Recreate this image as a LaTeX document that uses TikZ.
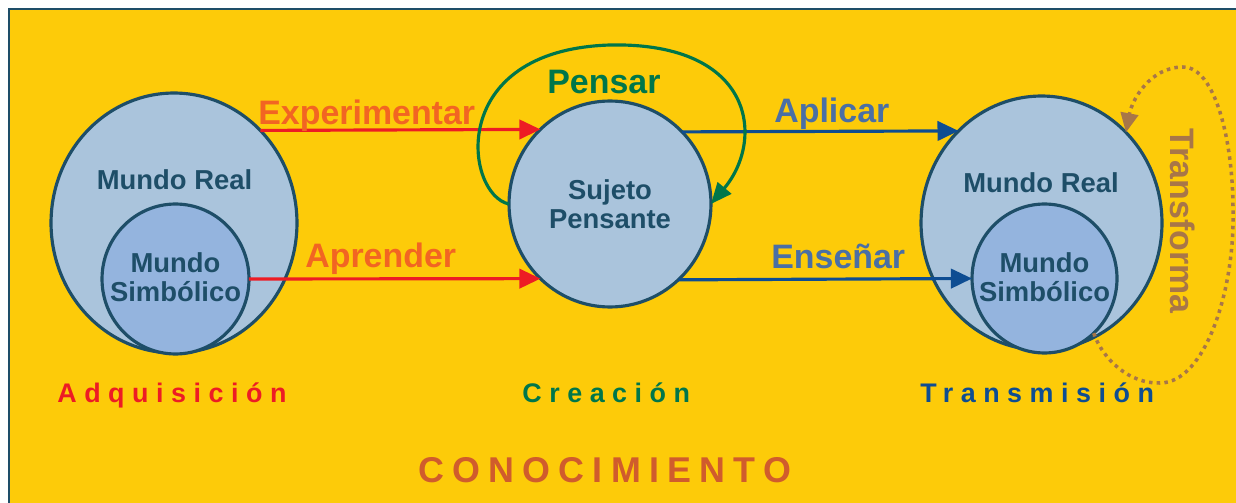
\documentclass[tikz,border=0pt]{standalone}
\usepackage{fontspec}
\setmainfont{Liberation Sans}
\usepackage{xcolor}
\definecolor{cn-yellow}{RGB}{253,203,9}
\definecolor{cn-navy}{RGB}{30,78,104}
\definecolor{cn-world}{RGB}{170,196,220}
\definecolor{cn-symbol}{RGB}{148,180,222}
\definecolor{cn-red}{RGB}{237,28,36}
\definecolor{cn-orange}{RGB}{242,101,34}
\definecolor{cn-green}{RGB}{0,118,74}
\definecolor{cn-blue}{RGB}{14,77,146}
\definecolor{cn-slate}{RGB}{74,111,165}
\definecolor{cn-brown}{RGB}{168,118,72}
\definecolor{cn-rust}{RGB}{208,92,44}
\usepackage{tikz}
\usetikzlibrary{shapes,arrows.meta}
\newcommand{\circfont}{\fontsize{15.6}{16.2}\selectfont\bfseries}
\newcommand{\verbfont}{\fontsize{19.3}{20}\selectfont\bfseries}
\newcommand{\stagefont}{\fontsize{15.3}{16}\selectfont\bfseries\addfontfeature{LetterSpace=28}}
\newcommand{\bigtitlefont}{\fontsize{20.4}{21}\selectfont\bfseries\addfontfeature{LetterSpace=23}}

\begin{document}
\begin{tikzpicture}[x=0.02cm,y=-0.02cm,
    world/.style={ellipse,draw=cn-navy,line width=1.8pt,fill=cn-world,inner sep=0pt,outer sep=0pt,text=cn-navy,align=center,font=\circfont},
    symbolic/.style={world,fill=cn-symbol},
    circtext/.style={text=cn-navy,align=center,font=\circfont},
    verb/.style={anchor=base west,inner sep=0pt,font=\verbfont},
    flow/.style={line width=1.8pt,-{Triangle[length=12pt,width=11pt]}},
    stage/.style={anchor=base west,inner sep=0pt,font=\stagefont}]
    % marco
    \useasboundingbox (0,0) rectangle (1236,503);
    \fill[white] (0,0) rectangle (1236,503);
    \draw[cn-navy,line width=1.4pt,fill=cn-yellow] (9,9) rectangle (1260,530);

    % mundos y sujeto
    \node[world,minimum width=4.92cm,minimum height=5.2cm] (realL) at (174,223) {};
    \node[circtext] (realLtxt) at (174.5,180) {Mundo Real};
    \node[symbolic,minimum width=2.94cm,minimum height=3cm] (simbL) at (175.5,279) {};
    \node[circtext] (simbLtxt) at (175.5,277) {Mundo\\Simbólico};
    \node[world,minimum width=4.04cm,minimum height=4.12cm] (sujeto) at (610,204) {Sujeto\\Pensante};
    \node[world,minimum width=4.82cm,minimum height=5.08cm] (realR) at (1041.5,223) {};
    \node[circtext] (realRtxt) at (1041,183) {Mundo Real};
    \node[symbolic,minimum width=2.9cm,minimum height=2.98cm] (simbR) at (1044.5,278.5) {};
    \node[circtext] (simbRtxt) at (1044.5,277) {Mundo\\Simbólico};

    % flechas
    \draw[flow,cn-red] (realL.47.2) -- (sujeto.133.5);
    \draw[flow,cn-red] (simbL.east) -- (sujeto.227.3);
    \draw[flow,cn-blue] (sujeto.45.7) -- (realR.132.1);
    \draw[flow,cn-blue] (sujeto.312.7) -- (simbR.west);

    \coordinate (pensarTop) at (610,45);
    \draw[cn-green,line width=1.8pt,-{Triangle[length=12pt,width=10pt]}]
        (sujeto.west) .. controls (465,195) and (445,50) .. (pensarTop)
        .. controls (755,42) and (765,140) .. (sujeto.east);

    \coordinate (tfBottom) at (1160,383);
    \coordinate (tfRight) at (1233,210);
    \coordinate (tfTop) at (1183,67);
    \draw[cn-brown,line width=2pt,dash pattern=on 2pt off 2.4pt,-{Triangle[length=11pt,width=10pt]}]
        (simbR.312.8) .. controls (1103,360) and (1130,384) .. (tfBottom)
        .. controls (1205,383) and (1235,290) .. (tfRight)
        .. controls (1233,140) and (1215,67) .. (tfTop)
        .. controls (1150,67) and (1132,100) .. (realR.47.4);

    % verbos
    \node[verb,text=cn-orange] (experimentar) at (258,125) {Experimentar};
    \node[verb,text=cn-orange] (aprender) at (305,267) {Aprender};
    \node[verb,text=cn-green] (pensar) at (547,94) {Pensar};
    \node[verb,text=cn-slate] (aplicar) at (774,123) {Aplicar};
    \node[verb,text=cn-slate] (ensenar) at (771,268) {Enseñar};
    \node[font=\verbfont,text=cn-brown,rotate=-90] (transforma) at (1183,221) {Transforma};

    % etapas
    \node[stage,text=cn-red] (adquisicion) at (57,402) {Adquisición};
    \node[stage,text=cn-green] (creacion) at (522,402) {Creación};
    \node[stage,text=cn-blue] (transmision) at (920,402) {Transmisión};
    \node[anchor=base west,inner sep=0pt,font=\bigtitlefont,text=cn-rust] (conocimiento) at (418,482) {CONOCIMIENTO};
\end{tikzpicture}
\end{document}
